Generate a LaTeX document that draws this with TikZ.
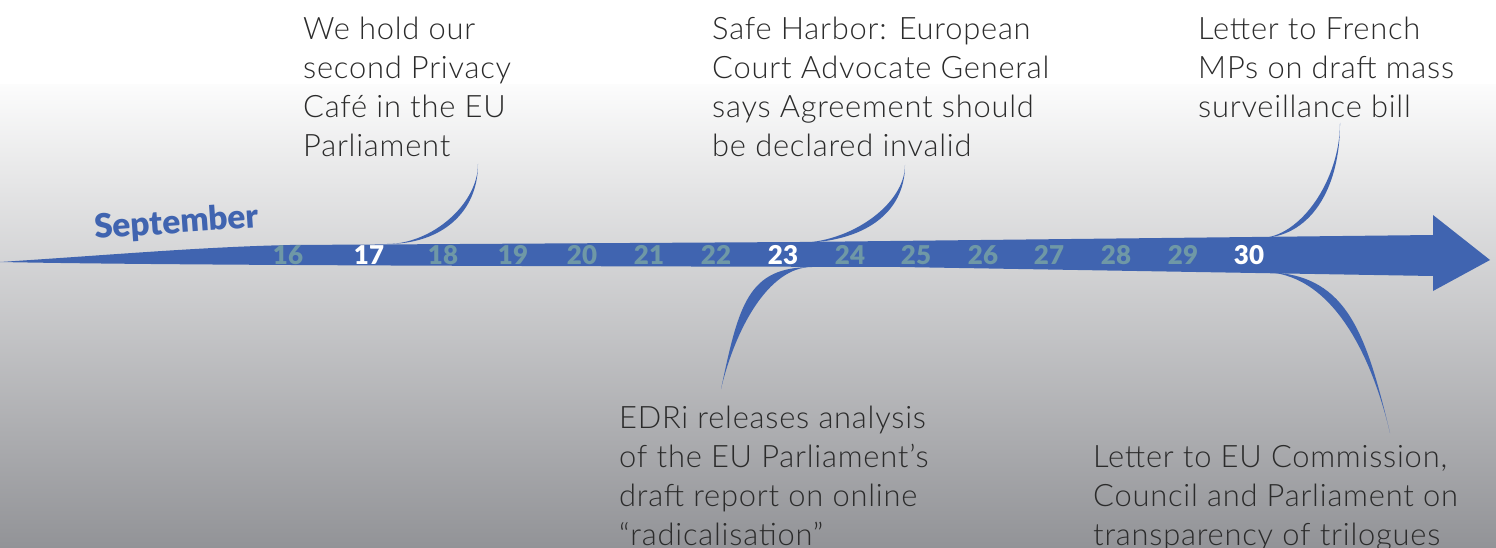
\documentclass[tikz,border=0pt]{standalone}
\usepackage{fontspec}
\setmainfont{Lato Light}[LetterSpace=2.5]
\newfontfamily\datefont{Lato Black}
\usepackage{xcolor}
\definecolor{edriblue}{HTML}{4064B0}
\definecolor{daygrey}{HTML}{6F98A6}
\definecolor{bgbottom}{HTML}{929397}
\definecolor{inkgrey}{HTML}{2B2B2B}
\tikzset{
  event/.style={anchor=north west,align=left,inner sep=0pt,text=inkgrey,
    font=\fontsize{31}{39}\selectfont},
  day/.style={inner sep=0pt,font=\datefont\fontsize{26}{26}\selectfont},
  link/.style={fill=edriblue}
}

\begin{document}
\begin{tikzpicture}[x=1bp,y=-1bp]
\useasboundingbox (0,0) rectangle (1496,548);
\fill[white] (0,0) rectangle (1496,86);
\shade[top color=white!97!bgbottom,bottom color=bgbottom] (0,85) rectangle (1496,548);

% the time line
\fill[edriblue] (0,262) .. controls (110,255) and (200,247) .. (290,245)
  -- (800,242) -- (1433,235) -- (1433,215) -- (1490,260) -- (1433,291)
  -- (1433,276) -- (900,267) .. controls (450,266) and (150,265) .. (0,262) -- cycle;
\node[anchor=base west,inner sep=0pt,rotate=4,text=edriblue,
  font=\datefont\fontsize{33.5}{33.5}\selectfont] (month) at (95,239) {September};

\foreach \d/\x/\c in {16/288/daygrey,17/369/white,18/443/daygrey,19/513/daygrey,
  20/582/daygrey,21/649/daygrey,22/716/daygrey,23/783/white,24/850/daygrey,
  25/916/daygrey,26/983/daygrey,27/1049/daygrey,28/1116/daygrey,29/1183/daygrey,
  30/1249/white}
  \node[day,text=\c] (d\d) at (\x,255) {\d};

% events
\node[event] (ev17) at (303,17) {We hold our\\second Privacy\\Café in the EU\\Parliament};
\node[event] (ev23a) at (712,17) {Safe Harbor: European\\Court Advocate General\\says Agreement should\\be declared invalid};
\node[event] (ev30a) at (1198,17) {Letter to French\\MPs on draft mass\\surveillance bill};
\node[event] (ev23b) at (619,406) {EDRi releases analysis\\of the EU Parliament’s\\draft report on online\\“radicalisation”};
\node[event] (ev30b) at (1093,445) {Letter to EU Commission,\\Council and Parliament on\\transparency of trilogues};

% connectors
\coordinate (s17) at (387,244);  \coordinate (e17) at (478,164);
\coordinate (s23a) at (797,243); \coordinate (e23a) at (905,165);
\coordinate (s30a) at (1260,238); \coordinate (e30a) at (1340,123);
\coordinate (s23b) at (812,267); \coordinate (e23b) at (721,389);
\coordinate (s30b) at (1262,272); \coordinate (e30b) at (1390,433);
\fill[link] (s17) .. controls +(55,0) and +(0,48) .. (e17) .. controls +(0,40) and +(45,0) .. (s17);
\fill[link] (s23a) .. controls +(67,0) and +(0,48) .. (e23a) .. controls +(0,39) and +(54,0) .. (s23a);
\fill[link] (s30a) .. controls +(48,0) and +(0,69) .. (e30a) .. controls +(0,57) and +(40,0) .. (s30a);
\fill[link] (s23b) .. controls +(-64,0) and +(18,-85) .. (e23b) .. controls +(14,-59) and +(-44,0) .. (s23b);
\fill[link] (s30b) .. controls +(83,0) and +(-25,-105) .. (e30b) .. controls +(-20,-84) and +(67,0) .. (s30b);
\end{tikzpicture}
\end{document}
